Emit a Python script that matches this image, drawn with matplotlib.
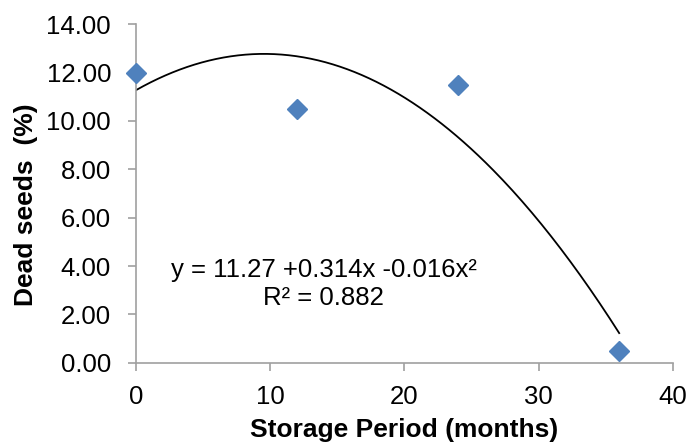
import numpy as np
import matplotlib
matplotlib.use("Agg")
import matplotlib.pyplot as plt

# storage period (months) and dead seeds (%)
months = [0, 12, 24, 36]
dead_seeds = [12.0, 10.5, 11.5, 0.5]

x_ticks = [0, 10, 20, 30, 40]
y_ticks = [0, 2, 4, 6, 8, 10, 12, 14]

plt.rcParams['font.family'] = ['Liberation Sans', 'DejaVu Sans']

fig = plt.figure(figsize=(6.88, 4.48), dpi=100)
ax = fig.add_axes([0.1977, 0.1904, 0.7803, 0.7554])

# polynomial (order 2) trendline, like the spreadsheet one
coef = np.polyfit(months, dead_seeds, 2)
xs = np.linspace(min(months), max(months), 200)
ax.plot(xs, np.polyval(coef, xs), color='black', lw=1.3, zorder=2)

ax.plot(months, dead_seeds, linestyle='none', marker='D', markersize=10,
        color='#4F81BD', markeredgecolor='#4F81BD', zorder=3, clip_on=False)

ax.set_xlim(0, 40)
ax.set_ylim(0, 14)
ax.set_xticks(x_ticks)
ax.set_yticks(y_ticks)
ax.set_yticklabels([f"{v:.2f}" for v in y_ticks])

for side in ['top', 'right']:
    ax.spines[side].set_visible(False)
for side in ['left', 'bottom']:
    ax.spines[side].set_color('#a0a0a0')
    ax.spines[side].set_linewidth(1.2)
ax.tick_params(axis='both', direction='out', length=6, width=1.2,
               color='#a0a0a0', labelsize=18.5)
ax.tick_params(axis='y', pad=12)
ax.tick_params(axis='x', pad=10)

ax.set_xlabel("Storage Period (months)", fontsize=19, fontweight='bold')
ax.set_ylabel("Dead seeds  (%)", fontsize=19, fontweight='bold')
ax.xaxis.set_label_coords(0.499, -0.163)
ax.yaxis.set_label_coords(-0.1825, 0.466)

ax.text(14.0, 3.54, "y = 11.27 +0.314x -0.016x²", fontsize=18.5, ha='center', va='baseline')
ax.text(14.0, 2.38, "R² = 0.882", fontsize=18.5, ha='center', va='baseline')

fig.savefig("out.png", dpi=100)
